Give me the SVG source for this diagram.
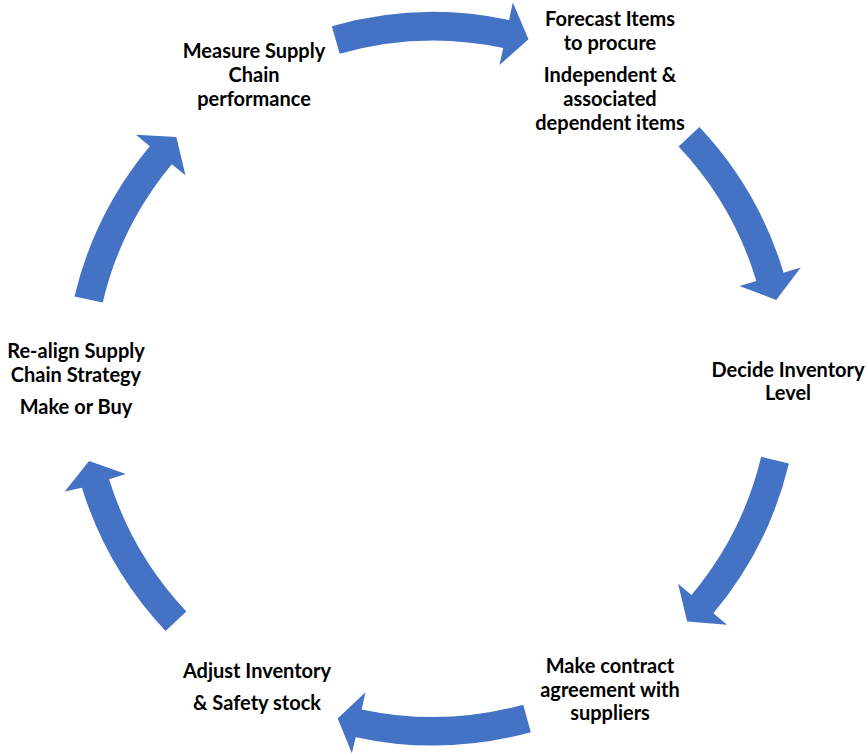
<svg xmlns="http://www.w3.org/2000/svg" width="867" height="755" viewBox="0 0 867 755">
  <style>
    .lbl { font-family: Lato, "Liberation Sans", sans-serif; font-weight: 700; font-size: 20px; fill: #000; text-anchor: middle; }
    .arc { fill: #4472C4; stroke: none; }
  </style>
  <rect width="867" height="755" fill="#fff"/>

  <!-- curved block arrows running clockwise round the cycle -->
  <g id="connectors">
    <path class="arc" d="M331.8 26.3 A366 366 0 0 1 509.1 20 L512.8 2.4 L528.5 39.2 L499.5 65 L503.2 47.9 A337.5 337.5 0 0 0 339.7 53.7 Z"/>
    <path class="arc" d="M699.4 127 A366 366 0 0 1 783.6 272.8 L800.8 267.6 L776.2 300 L739.5 286 L756.3 281 A337.5 337.5 0 0 0 678.6 146.5 Z"/>
    <path class="arc" d="M788.9 463.4 A366 366 0 0 1 713.4 613.3 L727.1 624.8 L687.1 621.6 L678.1 583.7 L691.5 594.9 A337.5 337.5 0 0 0 761.2 456.8 Z"/>
    <path class="arc" d="M530.8 732.2 A367 367 0 0 1 355.7 737.2 L351.9 753.3 L337.7 718.4 L365.4 692.3 L361.7 709.4 A338.5 338.5 0 0 0 523.2 704.7 Z"/>
    <path class="arc" d="M165.6 631 A368 368 0 0 1 81.9 487.7 L64.7 491.5 L89.1 461.1 L125.8 474.1 L109.1 479.3 A339.5 339.5 0 0 0 186.3 611.4 Z"/>
    <path class="arc" d="M74.5 296.5 A367 367 0 0 1 149.8 146.2 L135.9 134.8 L176.4 137.1 L185.4 175.3 L171.8 164.2 A338 338 0 0 0 102.7 302.4 Z"/>
  </g>

  <g id="node-measure">
    <text class="lbl" x="254" y="57.5">Measure Supply</text>
    <text class="lbl" x="254" y="81.5">Chain</text>
    <text class="lbl" x="254" y="105.5">performance</text>
  </g>

  <g id="node-forecast">
    <text class="lbl" x="610" y="26">Forecast Items</text>
    <text class="lbl" x="610" y="50">to procure</text>
    <text class="lbl" x="610" y="82">Independent &amp;</text>
    <text class="lbl" x="610" y="106">associated</text>
    <text class="lbl" x="610" y="130">dependent items</text>
  </g>

  <g id="node-decide">
    <text class="lbl" x="788" y="377">Decide Inventory</text>
    <text class="lbl" x="788" y="400">Level</text>
  </g>

  <g id="node-contract">
    <text class="lbl" x="610" y="673">Make contract</text>
    <text class="lbl" x="610" y="696.5">agreement with</text>
    <text class="lbl" x="610" y="720">suppliers</text>
  </g>

  <g id="node-adjust">
    <text class="lbl" x="257" y="678">Adjust Inventory</text>
    <text class="lbl" x="257" y="710">&amp; Safety stock</text>
  </g>

  <g id="node-realign">
    <text class="lbl" x="76" y="358">Re-align Supply</text>
    <text class="lbl" x="76" y="381.5">Chain Strategy</text>
    <text class="lbl" x="76" y="413.5">Make or Buy</text>
  </g>
</svg>
